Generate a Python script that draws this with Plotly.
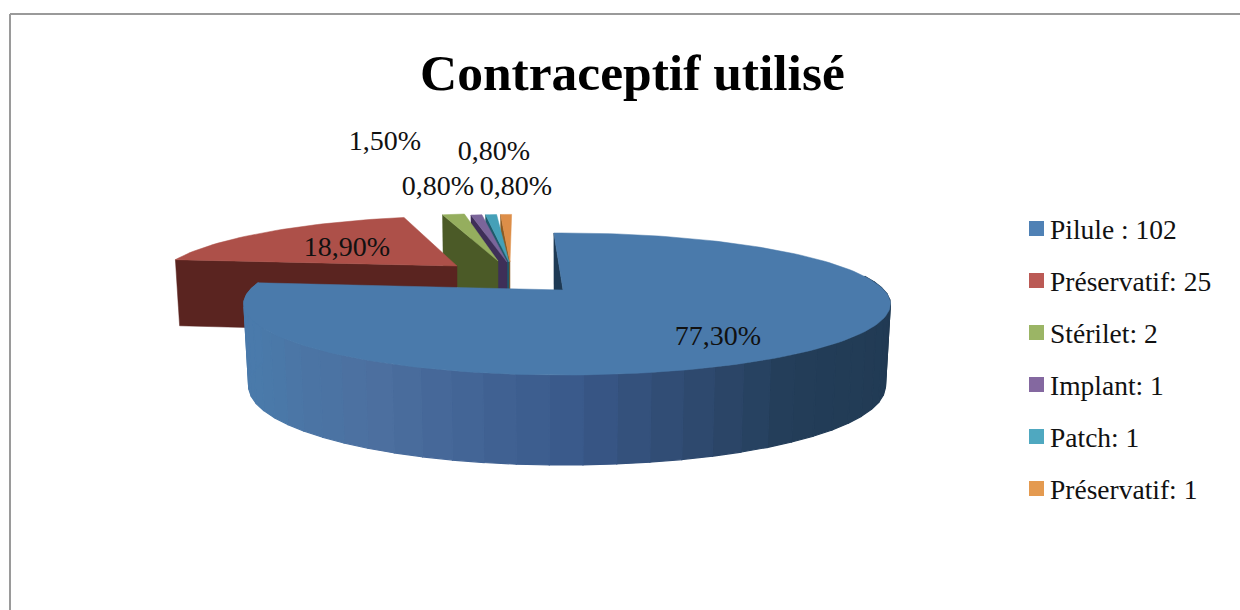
import math
import plotly.graph_objects as go

# --- data ---
categories = ["Pilule : 102", "Préservatif: 25", "Stérilet: 2", "Implant: 1", "Patch: 1", "Préservatif: 1"]
values = [102, 25, 2, 1, 1, 1]
pct_labels = ["77,30%", "18,90%", "1,50%", "0,80%", "0,80%", "0,80%"]
title_text = "Contraceptif utilisé"

# --- style ---
top_colors = ["#4a7aab", "#ad5049", "#95ae5e", "#7b659a", "#45a0b8", "#dd8e48"]
side_colors = ["#1e3a55", "#5a2420", "#4b5a27", "#3e2f58", "#1f5a6b", "#8a5a22"]
key_colors = ["#4f81b5", "#bb5a55", "#9bb565", "#8468a0", "#4fa8c0", "#e49a50"]
SERIF = "Liberation Serif"
W, H = 1240, 610
START = -2.0
K = 0.197
# per-slice projection: apex x, apex y, radius right, radius left, radius y, skew, wall height
proj = [
    (563, 290, 321, 313, 68.3, 0, 80),
    (457, 266, 291, 291, 60.0, -16, 67),
    (498, 261, 277, 277, 57.0, -9, 67),
    (507, 262, 277, 277, 57.0, -6, 67),
    (509, 262, 277, 277, 57.0, -8, 67),
    (510, 262, 277, 277, 57.0, -11.6, 67),
]
label_xy = [(718, 338), (347, 249), (385, 143), (438, 188), (494, 153), (516, 188)]
key_x, key_y0, key_step = 1036.5, 228.5, 52
key_text_dx, key_text_dy = 13.5, 4


def rim(i, deg):
    ax, ay, rr, rl, ry, h, _ = proj[i]
    t = math.radians(deg)
    u, v = math.sin(t), -math.cos(t)
    s = 1 / (1 - K * v)
    rx = rr if u >= 0 else rl
    return ax + s * (rx * u + h * v), ay + s * ry * v, v


def drop(i, x, y, v):
    ax = proj[i][0]
    return ax + 0.985 * (x - ax), y + proj[i][6] * (1 + 0.125 * v)


def poly(xs, ys, color, lw=0.5):
    return go.Scatter(x=xs, y=ys, mode="lines", fill="toself", fillcolor=color,
                      line=dict(color=color, width=lw), hoverinfo="skip", showlegend=False)


def lerp_color(stops, f):
    for (f0, c0), (f1, c1) in zip(stops, stops[1:]):
        if f <= f1:
            w = (f - f0) / (f1 - f0)
            rgb = [round(c0[k] + (c1[k] - c0[k]) * w) for k in range(3)]
            return "rgb({},{},{})".format(*rgb)
    return "rgb({},{},{})".format(*stops[-1][1])


total = sum(values)
spans = []
a = START
for val in values:
    b = a + 360 * val / total
    spans.append((a, b))
    a = b


def top_face(i):
    a0, a1 = spans[i]
    n = max(3, int((a1 - a0) / 1.5))
    pts = [rim(i, a0 + (a1 - a0) * j / n) for j in range(n + 1)]
    return [proj[i][0]] + [p[0] for p in pts] + [proj[i][0]], [proj[i][1]] + [p[1] for p in pts] + [proj[i][1]]


def cut_face(i, deg, color):
    x, y, v = rim(i, deg)
    ax, ay = proj[i][0], proj[i][1]
    x2, y2 = drop(i, x, y, v)
    ax2, ay2 = drop(i, ax, ay, 0)
    return poly([x, ax, ax2, x2, x], [y, ay, ay2, y2, y], color)


fig = go.Figure()

# small wedges and the red one, rear-right first
for i in [5, 4, 3, 2, 1]:
    fig.add_trace(cut_face(i, spans[i][0], side_colors[i]))
    tx, ty = top_face(i)
    fig.add_trace(poly(tx, ty, top_colors[i]))

# big slice: cut face, outer wall in shaded strips, top
fig.add_trace(cut_face(0, spans[0][0], side_colors[0]))
wall_stops = [(0.0, (31, 56, 80)), (0.33, (35, 61, 88)), (0.42, (47, 74, 112)),
              (0.52, (59, 91, 141)), (0.66, (76, 111, 159)), (0.82, (74, 122, 170)), (1.0, (74, 122, 171))]
w0, w1 = 78.0, spans[0][1]
strips = 40
for j in range(strips):
    d0 = w0 + (w1 - w0) * j / strips
    d1 = w0 + (w1 - w0) * (j + 1) / strips
    x0, y0, v0 = rim(0, d0)
    x1, y1, v1 = rim(0, d1)
    bx0, by0 = drop(0, x0, y0, v0)
    bx1, by1 = drop(0, x1, y1, v1)
    fig.add_trace(poly([x0, x1, bx1, bx0, x0], [y0, y1, by1, by0, y0],
                       lerp_color(wall_stops, (j + 0.5) / strips), lw=1.2))
tx, ty = top_face(0)
fig.add_trace(poly(tx, ty, top_colors[0]))

# percentage labels
fig.add_trace(go.Scatter(x=[p[0] for p in label_xy], y=[p[1] for p in label_xy], mode="text",
                         text=pct_labels, textposition="middle center",
                         textfont=dict(family=SERIF, size=28, color="#111111"),
                         hoverinfo="skip", showlegend=False))

# key
key_ys = [key_y0 + key_step * i for i in range(len(categories))]
fig.add_trace(go.Scatter(x=[key_x] * len(categories), y=key_ys, mode="markers",
                         marker=dict(symbol="square", size=15, color=key_colors),
                         hoverinfo="skip", showlegend=False))
fig.add_trace(go.Scatter(x=[key_x + key_text_dx] * len(categories), y=[k + key_text_dy for k in key_ys],
                         mode="text", text=categories, textposition="middle right",
                         textfont=dict(family=SERIF, size=27.5, color="#111111"),
                         hoverinfo="skip", showlegend=False))

# frame
frame = dict(type="line", line=dict(color="#9a9a9a", width=2), layer="below")
shapes = [
    dict(frame, x0=10, x1=10, y0=14, y1=H),
    dict(frame, x0=10, x1=W, y0=14, y1=14),
]

fig.update_layout(
    width=W, height=H, margin=dict(l=0, r=0, t=0, b=0), paper_bgcolor="white", plot_bgcolor="white",
    showlegend=False, shapes=shapes,
    xaxis=dict(range=[0, W], visible=False, fixedrange=True),
    yaxis=dict(range=[H, 0], visible=False, fixedrange=True),
    annotations=[dict(text="<b>%s</b>" % title_text, x=632, y=72, xref="x", yref="y", showarrow=False,
                      font=dict(family=SERIF, size=51.5, color="#000000"), xanchor="center", yanchor="middle")],
)
fig.write_html("out.html", config={"displayModeBar": False},
               post_script="document.body.style.margin='0';document.body.style.overflow='hidden';")
